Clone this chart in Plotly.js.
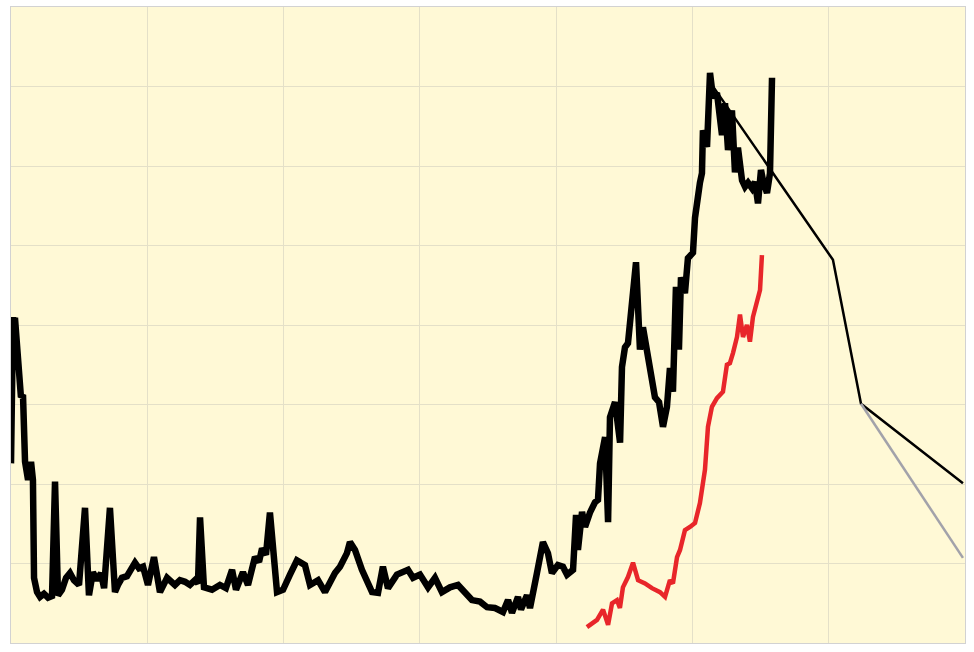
<!DOCTYPE html>
<html>
<head>
<meta charset="utf-8">
<script src="https://cdn.plot.ly/plotly-3.0.1.min.js"></script>
<style>html,body{margin:0;padding:0;background:#fff;}#chart{width:974px;height:652px;}</style>
</head>
<body>
<div id="chart"></div>
<script>
// Historical series (black)
const histX = [0,0.015,0.022,0.029,0.044,0.059,0.073,0.088,0.103,0.125,0.147,0.161,0.169,0.191,0.213,0.242,0.272,0.301,0.323,0.345,0.374,0.404,0.433,0.462,0.499,0.543,0.572,0.601,0.631,0.660,0.683,0.726,0.763,0.785,0.814,0.851,0.880,0.910,0.939,0.969,1.005,1.049,1.093,1.145,1.203,1.240,1.277,1.313,1.350,1.372,1.387,1.416,1.475,1.533,1.577,1.622,1.651,1.702,1.739,1.790,1.820,1.842,1.871,1.900,1.952,1.996,2.047,2.098,2.157,2.194,2.253,2.304,2.377,2.414,2.465,2.487,2.524,2.575,2.649,2.693,2.729,2.766,2.832,2.913,2.950,3.001,3.060,3.111,3.162,3.221,3.280,3.331,3.382,3.441,3.493,3.551,3.610,3.647,3.676,3.720,3.742,3.786,3.808,3.859,3.903,3.940,3.969,4.013,4.050,4.080,4.124,4.146,4.160,4.190,4.212,4.248,4.285,4.307,4.322,4.359,4.381,4.395,4.432,4.469,4.483,4.505,4.527,4.586,4.601,4.615,4.637,4.667,4.703,4.725,4.755,4.784,4.813,4.835,4.857,4.879,4.901,4.916,4.945,4.967,5.004,5.019,5.055,5.070,5.077,5.107,5.129,5.151,5.180,5.217,5.239,5.261,5.290,5.312,5.334,5.364,5.386,5.408,5.437,5.459,5.481,5.503,5.518,5.547,5.569,5.584];
const histY = [2.26,4.10,3.56,4.09,3.75,3.37,3.09,3.12,2.28,2.05,2.28,2.05,0.82,0.64,0.58,0.62,0.57,0.59,2.03,0.60,0.67,0.82,0.88,0.79,0.73,1.70,0.60,0.89,0.79,0.88,0.69,1.70,0.64,0.73,0.82,0.84,0.92,1.01,0.94,0.96,0.73,1.08,0.64,0.82,0.73,0.79,0.77,0.73,0.79,0.75,1.58,0.70,0.67,0.73,0.69,0.92,0.67,0.89,0.73,1.08,1.02,1.19,1.11,1.64,0.64,0.67,0.86,1.04,0.98,0.73,0.79,0.64,0.88,0.96,1.13,1.27,1.17,0.92,0.64,0.63,0.96,0.69,0.86,0.92,0.82,0.86,0.70,0.82,0.64,0.70,0.73,0.63,0.54,0.52,0.45,0.44,0.39,0.54,0.38,0.58,0.42,0.60,0.44,0.88,1.27,1.13,0.88,0.98,0.96,0.86,0.92,1.61,1.17,1.65,1.46,1.64,1.77,1.80,2.26,2.59,1.52,2.84,3.03,2.52,3.47,3.72,3.77,4.79,4.28,3.69,3.97,3.69,3.35,3.09,3.03,2.72,2.97,3.46,3.16,4.48,3.69,4.60,4.40,4.84,4.91,5.35,5.79,5.91,6.45,6.24,7.17,6.86,6.92,6.39,6.79,6.20,6.70,5.92,6.23,5.82,5.74,5.79,5.72,5.80,5.53,5.95,5.82,5.66,5.91,7.11];

// Second series (red)
const redX = [4.226,4.300,4.344,4.381,4.410,4.446,4.468,4.490,4.527,4.564,4.601,4.652,4.703,4.762,4.799,4.835,4.857,4.887,4.909,4.945,4.982,5.019,5.055,5.092,5.114,5.143,5.180,5.224,5.253,5.275,5.298,5.327,5.349,5.371,5.400,5.422,5.444,5.481,5.496,5.510];
const redY = [0.20,0.29,0.42,0.23,0.50,0.54,0.44,0.70,0.83,1.01,0.79,0.75,0.69,0.64,0.58,0.79,0.75,1.08,1.17,1.42,1.46,1.51,1.76,2.18,2.72,2.97,3.08,3.16,3.50,3.52,3.65,3.85,4.13,3.85,4.00,3.79,4.10,4.34,4.44,4.88];

// Projection (black thin) and alternative projection (gray)
const projX = [5.143,6.031,6.237,6.985];
const projY = [7.02,4.82,3.01,2.01];
const altX = [6.237,6.985];
const altY = [3.01,1.07];

const traces = [
  {x: projX, y: projY, mode: 'lines', line: {color: '#000000', width: 2.5}, hoverinfo: 'skip'},
  {x: altX, y: altY, mode: 'lines', line: {color: '#a2a2aa', width: 2.5}, hoverinfo: 'skip'},
  {x: redX, y: redY, mode: 'lines', line: {color: '#e8262a', width: 4.5}, hoverinfo: 'skip'},
  {x: histX, y: histY, mode: 'lines', line: {color: '#000000', width: 6.5}, hoverinfo: 'skip'}
];

const axisCommon = {
  showticklabels: false, ticks: '', zeroline: false,
  showgrid: true, gridcolor: '#e4e0c8', gridwidth: 1,
  showline: true, linecolor: '#d2d2d2', linewidth: 1, mirror: true, dtick: 1
};

const layout = {
  width: 974, height: 652,
  margin: {l: 11, r: 9, t: 7, b: 9, pad: 0},
  paper_bgcolor: '#ffffff',
  plot_bgcolor: '#fff9d6',
  showlegend: false,
  xaxis: Object.assign({range: [0, 7], tick0: 0}, axisCommon),
  yaxis: Object.assign({range: [0, 8], tick0: 0}, axisCommon)
};

Plotly.newPlot('chart', traces, layout, {staticPlot: true, displayModeBar: false});
</script>
</body>
</html>
